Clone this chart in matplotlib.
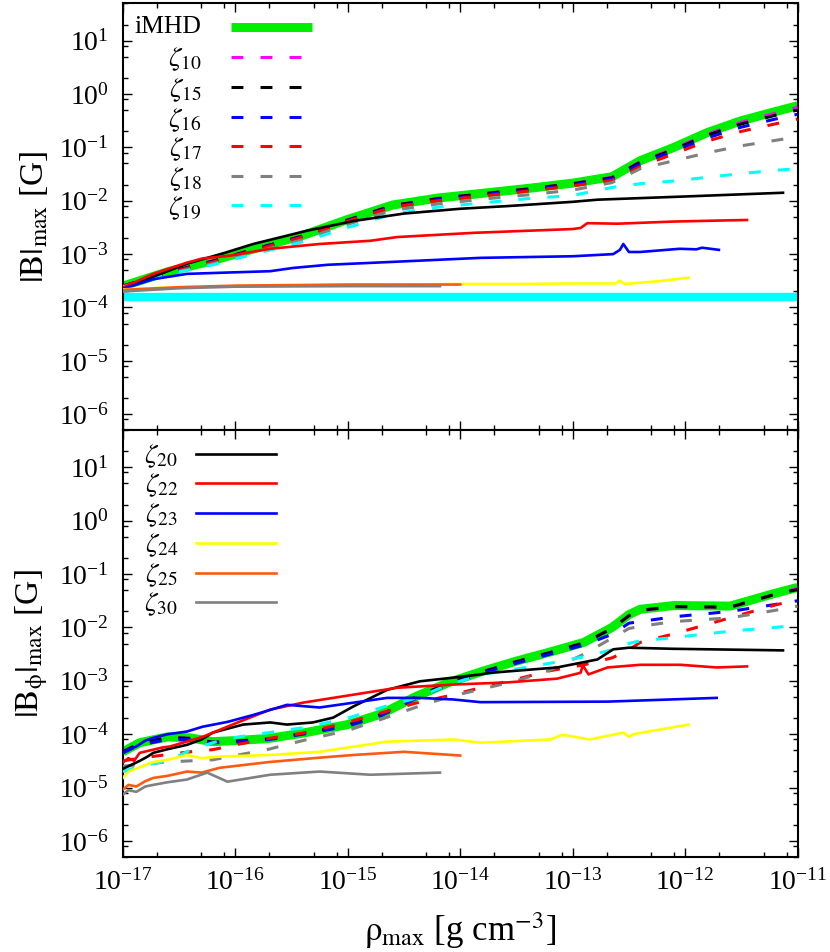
import numpy as np
import matplotlib
matplotlib.use('Agg')
import matplotlib.pyplot as plt
from matplotlib.ticker import LogLocator, NullFormatter

plt.rcParams['font.family'] = ['Liberation Serif', 'DejaVu Serif']
plt.rcParams['mathtext.fontset'] = 'stix'

# all values are log10 (rho in g/cm^3, B in G)
# ---- top panel: |B|max ----
top_rho = [-17, -16.6, -16.2, -15.8, -15.4, -15.0, -14.6, -14.2, -13.8, -13.4,
           -13.0, -12.65, -12.4, -12.1, -11.8, -11.5, -11.2, -11.0]
top_imhd = [-3.6, -3.33, -3.12, -2.88, -2.65, -2.35, -2.08, -1.95, -1.86, -1.77,
            -1.67, -1.55, -1.25, -1.0, -0.72, -0.5, -0.33, -0.22]
top_z10 = [-3.6, -3.34, -3.13, -2.89, -2.66, -2.36, -2.09, -1.96, -1.87, -1.78,
           -1.68, -1.56, -1.27, -1.02, -0.75, -0.53, -0.36, -0.25]
top_z15 = [-3.6, -3.34, -3.13, -2.89, -2.66, -2.36, -2.09, -1.96, -1.87, -1.78,
           -1.68, -1.57, -1.28, -1.04, -0.77, -0.56, -0.40, -0.30]
top_z16 = [-3.6, -3.35, -3.14, -2.90, -2.67, -2.37, -2.11, -1.98, -1.89, -1.80,
           -1.70, -1.59, -1.31, -1.07, -0.82, -0.62, -0.47, -0.38]
top_z17 = [-3.6, -3.35, -3.15, -2.91, -2.68, -2.38, -2.12, -2.00, -1.91, -1.82,
           -1.72, -1.62, -1.36, -1.12, -0.88, -0.70, -0.56, -0.47]
top_z18 = [-3.62, -3.37, -3.18, -2.95, -2.73, -2.44, -2.18, -2.06, -1.97, -1.89,
           -1.80, -1.66, -1.40, -1.25, -1.10, -0.97, -0.87, -0.80]
top_z19 = [-3.62, -3.38, -3.20, -2.98, -2.77, -2.50, -2.25, -2.12, -2.04, -1.96,
           -1.90, -1.75, -1.68, -1.63, -1.56, -1.49, -1.43, -1.40]

top_z20_rho = [-17, -16.7, -16.43, -16.1, -15.84, -15.36, -14.95, -14.5, -14.0, -13.58,
               -13.0, -12.78, -12.0, -11.13]
top_z20 = [-3.65, -3.4, -3.18, -2.98, -2.81, -2.56, -2.38, -2.24, -2.15, -2.10,
           -2.02, -1.98, -1.92, -1.85]
top_z22_rho = [-17, -16.73, -16.43, -16.29, -16.05, -15.69, -15.25, -14.8, -14.56, -13.87,
               -13.0, -12.93, -12.87, -12.6, -12.11, -11.45]
top_z22 = [-3.63, -3.37, -3.16, -3.08, -3.03, -2.90, -2.81, -2.75, -2.68, -2.60,
           -2.53, -2.51, -2.42, -2.43, -2.39, -2.36]
top_z23_rho = [-17, -16.73, -16.43, -16.14, -15.69, -15.49, -15.18, -14.65, -13.82, -13.0,
               -12.64, -12.58, -12.55, -12.5, -12.4, -12.05, -11.9, -11.85, -11.7]
top_z23 = [-3.65, -3.47, -3.37, -3.35, -3.32, -3.26, -3.20, -3.15, -3.07, -3.04,
           -3.0, -2.92, -2.81, -2.96, -2.96, -2.90, -2.91, -2.88, -2.92]
top_z24_rho = [-17, -16.5, -16.0, -15.0, -14.0, -13.5, -13.0, -12.62, -12.58, -12.54, -12.2, -11.97]
top_z24 = [-3.66, -3.62, -3.60, -3.58, -3.56, -3.56, -3.55, -3.55, -3.50, -3.56, -3.50, -3.44]
top_z25_rho = [-17, -16.5, -16.0, -15.0, -14.5, -14.0]
top_z25 = [-3.67, -3.62, -3.59, -3.57, -3.57, -3.57]
top_z30_rho = [-17, -16.5, -16.0, -15.0, -14.5, -14.18]
top_z30 = [-3.70, -3.64, -3.61, -3.60, -3.60, -3.60]
b_init = -3.8

# ---- bottom panel: |B_phi|max ----
bot_rho = [-17, -16.85, -16.6, -16.4, -16.2, -16.0, -15.7, -15.4, -15.0, -14.7, -14.4, -14.1,
           -13.8, -13.5, -13.2, -12.9, -12.65, -12.5, -12.4, -12.1, -11.6, -11.2, -11.0]
bot_imhd = [-4.33, -4.16, -4.05, -4.07, -4.14, -4.12, -4.08, -3.98, -3.82, -3.62, -3.3, -3.03,
            -2.82, -2.63, -2.46, -2.28, -2.0, -1.76, -1.66, -1.59, -1.6, -1.36, -1.25]
bot_z10 = [-4.33, -4.17, -4.06, -4.08, -4.15, -4.13, -4.09, -3.99, -3.83, -3.63, -3.31, -3.04,
           -2.83, -2.64, -2.47, -2.29, -2.02, -1.78, -1.68, -1.61, -1.62, -1.38, -1.27]
bot_z15 = [-4.33, -4.17, -4.06, -4.08, -4.15, -4.13, -4.09, -3.99, -3.83, -3.63, -3.31, -3.04,
           -2.83, -2.64, -2.47, -2.29, -2.02, -1.78, -1.68, -1.61, -1.62, -1.38, -1.29]
bot_z16 = [-4.35, -4.2, -4.1, -4.1, -4.16, -4.15, -4.1, -4.0, -3.85, -3.65, -3.34, -3.07,
           -2.86, -2.67, -2.5, -2.33, -2.13, -1.92, -1.89, -1.8, -1.7, -1.57, -1.5]
bot_z17 = [-4.5, -4.45, -4.38, -4.33, -4.29, -4.2, -4.08, -3.98, -3.78, -3.6, -3.42, -3.28,
           -3.12, -2.97, -2.81, -2.7, -2.57, -2.42, -2.28, -2.12, -1.82, -1.58, -1.48]
bot_z18 = [-4.6, -4.57, -4.52, -4.5, -4.48, -4.4, -4.28, -4.12, -3.93, -3.72, -3.5, -3.3,
           -3.15, -3.0, -2.8, -2.5, -2.2, -2.02, -1.98, -1.89, -1.82, -1.68, -1.6]
bot_z19 = [-4.7, -4.6, -4.5, -4.3, -4.16, -4.06, -3.97, -3.88, -3.7, -3.5, -3.33, -3.07,
           -2.88, -2.78, -2.67, -2.55, -2.42, -2.3, -2.25, -2.19, -2.07, -2.0, -1.96]

bot_z20_rho = [-17, -16.95, -16.9, -16.85, -16.78, -16.73, -16.6, -16.43, -16.3, -16.2, -15.93,
               -15.69, -15.54, -15.31, -15.13, -14.95, -14.65, -14.36, -14.06, -13.82, -13.73,
               -13.14, -12.78, -12.64, -12.5, -12.11, -11.13]
bot_z20 = [-4.65, -4.6, -4.55, -4.5, -4.42, -4.35, -4.28, -4.2, -4.1, -3.97, -3.82,
           -3.78, -3.82, -3.78, -3.69, -3.48, -3.17, -3.01, -2.94, -2.88, -2.85,
           -2.75, -2.6, -2.41, -2.38, -2.4, -2.43]
bot_z22_rho = [-17, -16.95, -16.9, -16.85, -16.75, -16.65, -16.58, -16.45, -16.29, -15.99, -15.69,
               -15.4, -14.95, -14.56, -14.06, -13.82, -13.58, -13.14, -12.93, -12.91, -12.86,
               -12.69, -12.4, -12.04, -11.72, -11.45]
bot_z22 = [-4.53, -4.45, -4.5, -4.35, -4.3, -4.25, -4.23, -4.15, -4.05, -3.79, -3.54,
           -3.41, -3.26, -3.13, -3.07, -3.05, -3.03, -2.96, -2.85, -2.71, -2.88,
           -2.75, -2.7, -2.7, -2.75, -2.73]
bot_z23_rho = [-17, -16.95, -16.88, -16.8, -16.73, -16.6, -16.43, -16.29, -16.07, -15.84, -15.54,
               -15.25, -14.65, -14.36, -14.06, -13.82, -12.69, -11.72]
bot_z23 = [-4.35, -4.28, -4.23, -4.12, -4.07, -4.0, -3.95, -3.86, -3.77, -3.64, -3.45,
           -3.5, -3.32, -3.32, -3.35, -3.4, -3.39, -3.32]
bot_z24_rho = [-17, -16.95, -16.85, -16.73, -16.6, -16.43, -16.3, -16.14, -15.69, -15.25, -14.65,
               -14.06, -13.82, -13.2, -13.09, -12.85, -12.55, -12.5, -12.46, -11.97]
bot_z24 = [-4.82, -4.7, -4.62, -4.52, -4.48, -4.39, -4.45, -4.42, -4.39, -4.33, -4.14,
           -4.1, -4.16, -4.1, -4.01, -4.1, -3.97, -4.05, -4.0, -3.82]
bot_z25_rho = [-17, -16.95, -16.88, -16.8, -16.73, -16.6, -16.43, -16.3, -16.14, -15.69, -15.25,
               -14.95, -14.5, -14.0]
bot_z25 = [-5.04, -4.95, -4.98, -4.88, -4.82, -4.78, -4.7, -4.72, -4.63, -4.52, -4.44,
           -4.39, -4.33, -4.4]
bot_z30_rho = [-17, -16.95, -16.88, -16.8, -16.73, -16.6, -16.43, -16.25, -16.07, -15.69, -15.25,
               -14.8, -14.18]
bot_z30 = [-5.13, -5.05, -5.08, -4.98, -4.95, -4.9, -4.85, -4.72, -4.89, -4.76, -4.7,
           -4.76, -4.72]

x_ticks = [1e-17, 1e-16, 1e-15, 1e-14, 1e-13, 1e-12, 1e-11]
y_ticks = [1e-6, 1e-5, 1e-4, 1e-3, 1e-2, 1e-1, 1, 10]

dash_labels = ['10', '15', '16', '17', '18', '19']
dash_colors = ['#ff00ff', 'black', '#0000ff', '#ff0000', '#808080', '#00ffff']
solid_labels = ['20', '22', '23', '24', '25', '30']
solid_colors = ['black', '#ff0000', '#0000ff', '#ffff00', '#ff5a10', '#808080']
imhd_color = '#00ee00'

top_dashed = [top_z10, top_z15, top_z16, top_z17, top_z18, top_z19]
top_solid = [(top_z20_rho, top_z20), (top_z22_rho, top_z22), (top_z23_rho, top_z23),
             (top_z24_rho, top_z24), (top_z25_rho, top_z25), (top_z30_rho, top_z30)]
bot_dashed = [bot_z10, bot_z15, bot_z16, bot_z17, bot_z18, bot_z19]
bot_solid = [(bot_z20_rho, bot_z20), (bot_z22_rho, bot_z22), (bot_z23_rho, bot_z23),
             (bot_z24_rho, bot_z24), (bot_z25_rho, bot_z25), (bot_z30_rho, bot_z30)]

def p(v):
    return 10.0 ** np.array(v)

fs = 20
dash_pat = (3.9, 5.6)

fig = plt.figure(figsize=(8.3, 9.52), dpi=100)
ax1 = fig.add_axes([0.148, 0.548, 0.813, 0.4485])
ax2 = fig.add_axes([0.148, 0.0998, 0.813, 0.4485])

for ax, rho, imhd, dashed, solid in [(ax1, top_rho, top_imhd, top_dashed, top_solid),
                                    (ax2, bot_rho, bot_imhd, bot_dashed, bot_solid)]:
    if ax is ax1:
        ax.axhline(10 ** b_init, color='#00ffff', lw=6, zorder=1)
    ax.plot(p(rho), p(imhd), color=imhd_color, lw=6.5, solid_capstyle='butt', zorder=2)
    for vals, c in zip(dashed, dash_colors):
        ax.plot(p(rho), p(vals), color=c, lw=2.2, dashes=dash_pat, zorder=3)
    for (r, vals), c in zip(solid, solid_colors):
        ax.plot(p(r), p(vals), color=c, lw=1.9, zorder=4)

    ax.set_xscale('log')
    ax.set_yscale('log')
    ax.set_xlim(1e-17, 1e-11)
    ax.set_ylim(5e-7, 50)
    ax.set_xticks(x_ticks)
    ax.set_yticks(y_ticks)
    ax.xaxis.set_minor_locator(LogLocator(base=10, subs=(2., 5., 8.), numticks=20))
    ax.yaxis.set_minor_locator(LogLocator(base=10, subs=(2., 5., 8.), numticks=20))
    ax.xaxis.set_minor_formatter(NullFormatter())
    ax.yaxis.set_minor_formatter(NullFormatter())
    ax.tick_params(which='both', direction='in', top=True, right=True, labelsize=fs, width=1)
    ax.tick_params(which='major', length=6.5)
    ax.tick_params(which='minor', length=3.5)
    ax.tick_params(axis='y', pad=10)
    ax.tick_params(axis='x', pad=9)
    for s in ax.spines.values():
        s.set_linewidth(1.5)

ax1.tick_params(labelbottom=False)

ax1.set_ylabel(r'$\mathrm{|B|_{max}}$ [G]', fontsize=24)
ax2.set_ylabel(r'$\mathrm{|B_{\phi}|_{max}}$ [G]', fontsize=24)
ax1.yaxis.set_label_coords(-0.108, 0.5)
ax2.yaxis.set_label_coords(-0.108, 0.5)
ax2.set_xlabel(r'$\mathrm{\rho_{max}}$ [g cm$^{-3}$]', fontsize=25, labelpad=10)

# gnuplot style keys: label right-aligned, sample to the right
ax1.plot([0.160, 0.280], [0.944, 0.944], transform=ax1.transAxes, color=imhd_color,
         lw=6.5, solid_capstyle='butt')
ax1.text(0.117, 0.944, 'iMHD', transform=ax1.transAxes, ha='right', va='center', fontsize=18.5)
top_rows = [0.874, 0.803, 0.733, 0.665, 0.595, 0.527]
for lab, c, yy in zip(dash_labels, dash_colors, top_rows):
    ax1.plot([0.160, 0.280], [yy, yy], transform=ax1.transAxes, color=c, lw=2.2, dashes=dash_pat)
    ax1.text(0.117, yy - 0.006, r'$\zeta_{%s}$' % lab, transform=ax1.transAxes, ha='right',
             va='center', fontsize=20)

bot_rows = [0.944, 0.876, 0.806, 0.735, 0.665, 0.597]
for lab, c, yy in zip(solid_labels, solid_colors, bot_rows):
    ax2.plot([0.108, 0.227], [yy, yy], transform=ax2.transAxes, color=c, lw=1.9)
    ax2.text(0.082, yy - 0.006, r'$\zeta_{%s}$' % lab, transform=ax2.transAxes, ha='right',
             va='center', fontsize=20)

fig.savefig('out.png', dpi=100)
